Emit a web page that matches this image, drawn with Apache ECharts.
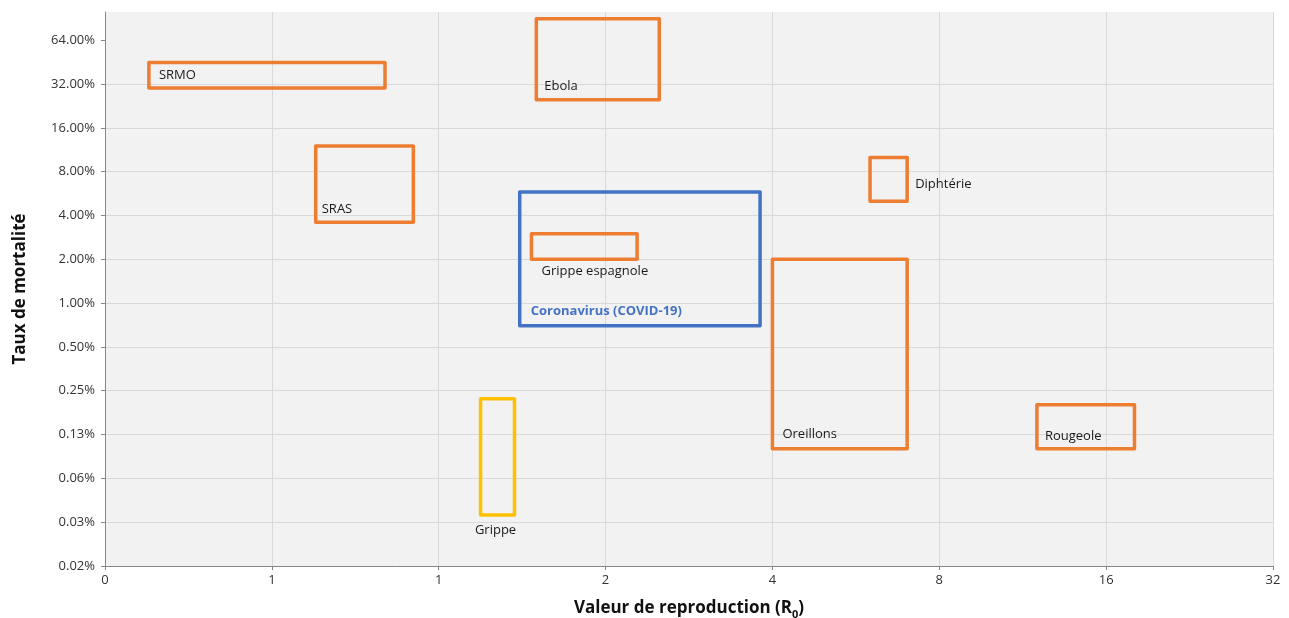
<!DOCTYPE html>
<html>
<head>
<meta charset="utf-8">
<script src="https://cdn.jsdelivr.net/npm/echarts@6/dist/echarts.min.js"></script>
<style>
html,body{margin:0;padding:0;background:#ffffff;}
#chart{width:1289px;height:618px;}
</style>
</head>
<body>
<div id="chart"></div>
<script>
// ---- Data ----
const diseases = ['Coronavirus (COVID-19)', 'SRMO', 'Ebola', 'SRAS', 'Diphtérie', 'Grippe espagnole', 'Oreillons', 'Rougeole', 'Grippe'];
const r0Low    = [1.4, 0.3, 1.5, 0.6, 6, 1.47, 4, 12, 1.19];
const r0High   = [3.8, 0.8, 2.5, 0.9, 7, 2.28, 7, 18, 1.37];
const mortLow  = [0.7, 30, 25, 3.6, 5, 2, 0.1, 0.1, 0.035];   // percent
const mortHigh = [5.8, 45, 90, 12, 10, 3, 2, 0.2, 0.22];      // percent

const xTickValues = [0.25, 0.5, 1, 2, 4, 8, 16, 32];
const xTickLabels = ['0', '1', '1', '2', '4', '8', '16', '32'];
const yTickValues = [0.015625, 0.03125, 0.0625, 0.125, 0.25, 0.5, 1, 2, 4, 8, 16, 32, 64]; // percent
const yTickLabels = ['0.02%', '0.03%', '0.06%', '0.13%', '0.25%', '0.50%', '1.00%', '2.00%', '4.00%', '8.00%', '16.00%', '32.00%', '64.00%'];
const yAxisMaxPct = 100;

// ---- Styles / label placement (kept separate from data) ----
const ORANGE = '#ED7D31', BLUE = '#4472C4', YELLOW = '#FFC000';
const boxColor = { 'Coronavirus (COVID-19)': BLUE, 'Grippe': YELLOW };
const labelLayout = {
  'SRMO':                   { h: 'left',   v: 'middle', dx: 10, dy: 0,   align: 'left' },
  'Ebola':                  { h: 'left',   v: 'bottom', dx: 8,  dy: -13, align: 'left' },
  'SRAS':                   { h: 'left',   v: 'bottom', dx: 6,  dy: -13, align: 'left' },
  'Diphtérie':              { h: 'right',  v: 'middle', dx: 8,  dy: 5,   align: 'left' },
  'Coronavirus (COVID-19)': { h: 'left',   v: 'bottom', dx: 11, dy: -14, align: 'left', bold: true, color: BLUE },
  'Grippe espagnole':       { h: 'left',   v: 'bottom', dx: 10, dy: 12,  align: 'left' },
  'Oreillons':              { h: 'left',   v: 'bottom', dx: 10, dy: -14, align: 'left' },
  'Rougeole':               { h: 'left',   v: 'bottom', dx: 8,  dy: -12, align: 'left' },
  'Grippe':                 { h: 'center', v: 'bottom', dx: -2, dy: 15,  align: 'center' }
};
const FONT = '"Open Sans", "DejaVu Sans", sans-serif';

// log2 transformation for both axes (the axes are base-2 logarithmic)
const L = Math.log2;
const xMin = L(xTickValues[0]), xMax = L(xTickValues[xTickValues.length - 1]);
const yMin = L(yTickValues[0]), yMax = L(yAxisMaxPct);

const boxes = diseases.map((d, i) => [L(r0Low[i]), L(r0High[i]), L(mortLow[i]), L(mortHigh[i]), d]);

function tickLabel(values, labels) {
  return function (v) {
    for (let i = 0; i < values.length; i++) {
      if (Math.abs(L(values[i]) - v) < 1e-6) return labels[i];
    }
    return '';
  };
}

const chart = echarts.init(document.getElementById('chart'), null, { renderer: 'canvas' });
chart.setOption({
  animation: false,
  backgroundColor: '#ffffff',
  textStyle: { fontFamily: FONT },
  grid: {
    left: 105, right: 16, top: 12, bottom: 52,
    show: true, backgroundColor: '#F2F2F2', borderWidth: 0,
    containLabel: false, outerBoundsMode: 'none'
  },
  xAxis: {
    type: 'value', min: xMin, max: xMax, interval: 1,
    name: '{t|Valeur de reproduction (R}{s|0}{t|)}',
    nameLocation: 'middle', nameGap: 30,
    nameTextStyle: {
      rich: {
        t: { fontFamily: FONT, fontSize: 17, fontWeight: 'bold', color: '#111111', lineHeight: 24 },
        s: { fontFamily: FONT, fontSize: 11, fontWeight: 'bold', color: '#111111', lineHeight: 12, verticalAlign: 'bottom' }
      }
    },
    axisLine: { show: true, onZero: false, lineStyle: { color: '#878787', width: 1 } },
    axisTick: { show: true, length: 4, lineStyle: { color: '#878787' } },
    axisLabel: { formatter: tickLabel(xTickValues, xTickLabels), color: '#333333', fontSize: 13, fontFamily: FONT, margin: 8 },
    splitLine: { show: true, lineStyle: { color: '#D9D9D9', width: 1 } }
  },
  yAxis: {
    type: 'value', min: yMin, max: yMax, interval: 1,
    name: 'Taux de mortalité',
    nameLocation: 'middle', nameGap: 76,
    nameTextStyle: { fontFamily: FONT, fontSize: 17, fontWeight: 'bold', color: '#111111' },
    axisLine: { show: true, onZero: false, lineStyle: { color: '#878787', width: 1 } },
    axisTick: { show: true, length: 4, lineStyle: { color: '#878787' }, customValues: yTickValues.map(L) },
    axisLabel: { formatter: tickLabel(yTickValues, yTickLabels), color: '#333333', fontSize: 13, fontFamily: FONT, margin: 10, customValues: yTickValues.map(L) },
    splitLine: { show: true, showMaxLine: false, showMinLine: false, lineStyle: { color: '#D9D9D9', width: 1 } }
  },
  series: [{
    type: 'custom',
    data: boxes,
    encode: { x: [0, 1], y: [2, 3] },
    clip: false,
    renderItem: function (params, api) {
      const name = diseases[params.dataIndex];
      const tl = api.coord([api.value(0), api.value(3)]);
      const br = api.coord([api.value(1), api.value(2)]);
      const color = boxColor[name] || ORANGE;
      const lay = labelLayout[name];
      const px = lay.h === 'left' ? tl[0] : lay.h === 'right' ? br[0] : (tl[0] + br[0]) / 2;
      const py = lay.v === 'top' ? tl[1] : lay.v === 'bottom' ? br[1] : (tl[1] + br[1]) / 2;
      return {
        type: 'group',
        children: [
          {
            type: 'rect',
            shape: { x: tl[0], y: tl[1], width: br[0] - tl[0], height: br[1] - tl[1] },
            style: { fill: 'none', stroke: color, lineWidth: 3.5, lineJoin: 'round' }
          },
          {
            type: 'text',
            x: px + lay.dx, y: py + lay.dy,
            style: {
              text: name,
              fill: lay.color || '#1a1a1a',
              fontSize: 13,
              fontFamily: FONT,
              fontWeight: lay.bold ? 'bold' : 'normal',
              align: lay.align,
              verticalAlign: 'middle'
            }
          }
        ]
      };
    }
  }]
});
</script>
</body>
</html>
